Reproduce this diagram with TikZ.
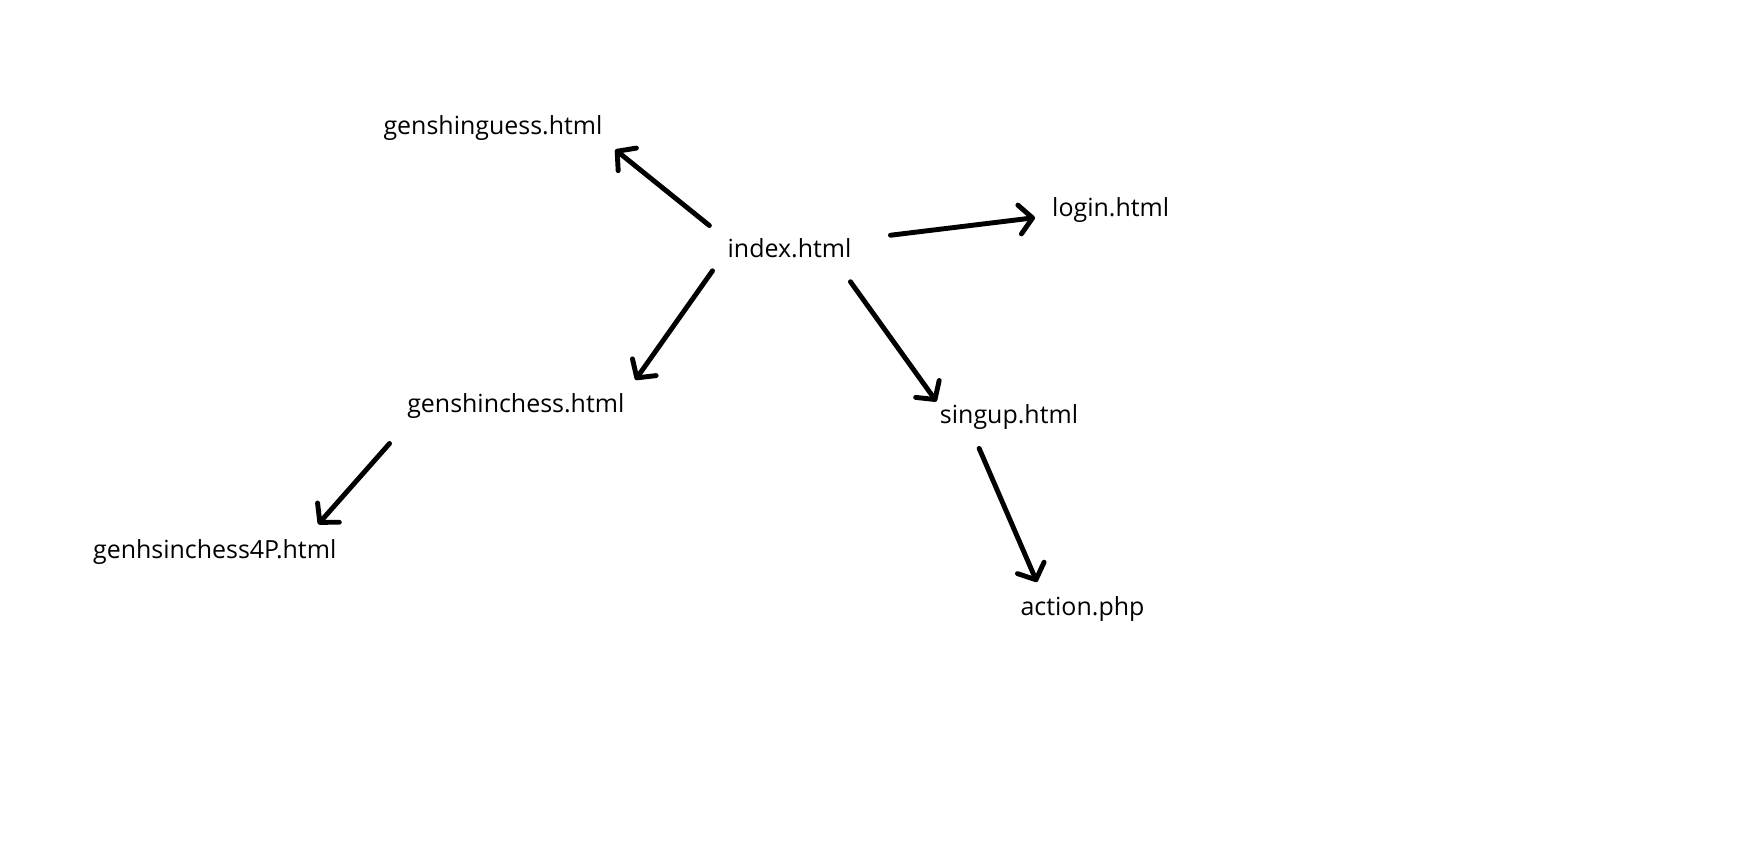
\documentclass[tikz,border=0pt]{standalone}
\usepackage{fontspec}
\setmainfont{Open Sans}
\usetikzlibrary{arrows.meta}

\begin{document}
\begin{tikzpicture}[x=0.02cm, y=-0.02cm,
   page_style/.style={inner sep=0pt, text height=0.34cm, text depth=0.1cm, font=\fontsize{14.2}{16}\selectfont},
   edge_style/.style={draw=black, line width=2.8pt, line cap=round, -{Straight Barb[length=0.26cm,width=0.58cm,round]}}]
	  \useasboundingbox (0,0) rectangle (1746,842);

	  \node [page_style] (guess) at (493,128.3) {genshinguess.html};
	  \node [page_style] (index) at (789.5,251.3) {index.html};
	  \node [page_style] (login) at (1110.7,210) {login.html};
	  \node [page_style] (chess) at (515.8,406.3) {genshinchess.html};
	  \node [page_style] (singup) at (1009,417.3) {singup.html};
	  \node [page_style] (chessfour) at (214.7,552) {genhsinchess4P.html};
	  \node [page_style] (action) at (1082.5,609) {action.php};

	  \foreach \from/\fx/\to/\tx/\ty/\pre/\post in {
	      index.north west/0/guess.south east/0/0/0.46cm/0.32cm,
	      index.north east/0/login.west/0/5.6/0.78cm/0.34cm,
	      index.south west/-9/chess.north east/0/0/0.2cm/0.37cm,
	      index.south east/-15/singup.north west/0/0/0.47cm/0.11cm,
	      chess.south west/5.5/chessfour.north east/-33/0/0.69cm/0.44cm,
	      singup.south/-38.4/action.north west/23.4/0/0.43cm/0.34cm}
	    \draw [edge_style, shorten <=\pre, shorten >=\post] ([shift={(\fx,0)}]\from) -- ([shift={(\tx,\ty)}]\to);

	\end{tikzpicture}
\end{document}
